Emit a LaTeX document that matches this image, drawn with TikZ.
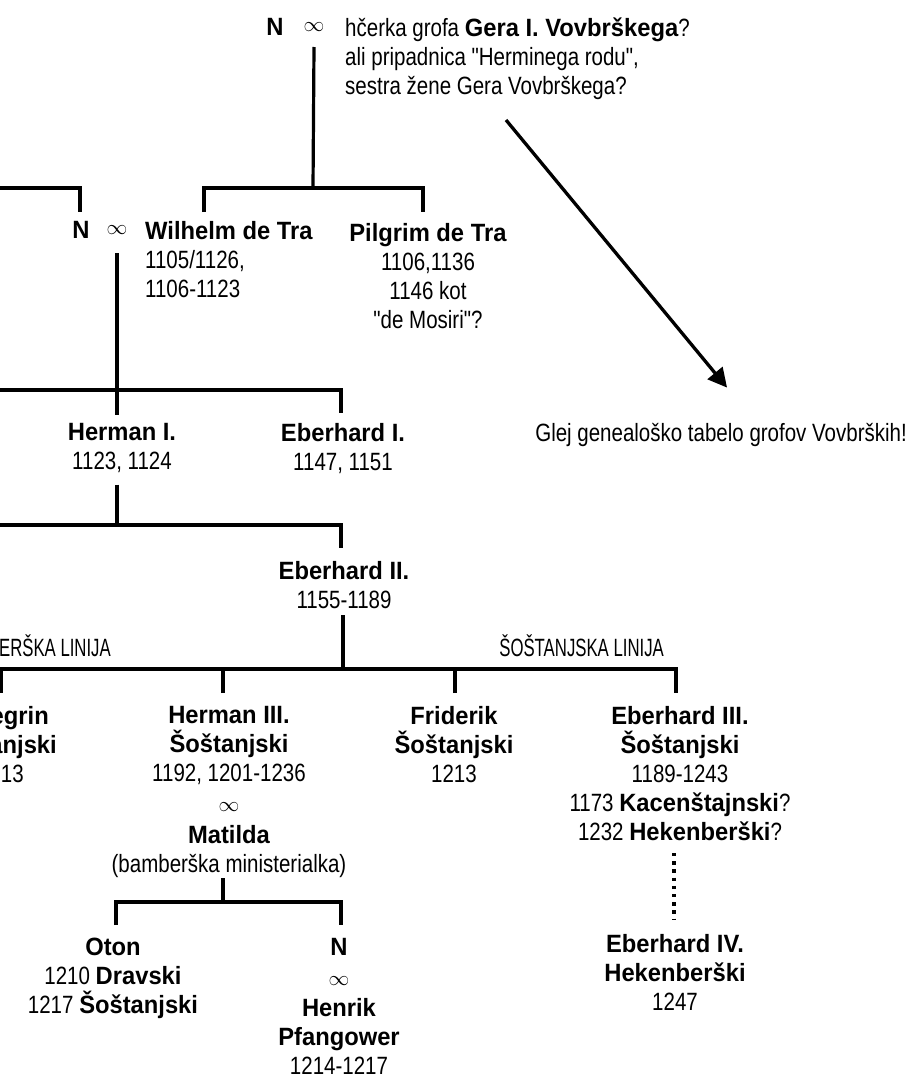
\documentclass[tikz,border=0pt]{standalone}
\usepackage{fontspec}
\newfontfamily\treefont{Liberation Sans}[UprightFeatures={FakeStretch=0.82},BoldFeatures={FakeStretch=0.95}]
\newfontfamily\capsfont{Liberation Sans}[FakeStretch=0.67]
\usepackage{tikz}
\usepackage{xcolor}
\usetikzlibrary{positioning,arrows.meta}
\newcommand{\marr}{{\fontsize{21}{29}\selectfont$\infty$}}

\begin{document}
\begin{tikzpicture}[x=1pt,y=-1pt,
  every node/.style={inner sep=0pt,font=\treefont\fontsize{25}{29}\selectfont},
  tree/.style={line width=3.2pt,line join=miter},
  person/.style={anchor=north,align=center},
  lineage/.style={anchor=base east,font=\capsfont\fontsize{25}{29}\selectfont},
  dotline/.style={line width=3.3pt,dash pattern=on 3.3pt off 4.9pt},
  pointer/.style={line width=3.3pt,-{Triangle[length=19pt,width=19pt]}}]
\useasboundingbox[fill=white] (0,0) rectangle (911,1079);

\node (topn) at (275,27) {\textbf{N}};
\node (topinf) at (314,27) {\marr};
\node[anchor=north west,align=left] (wife) at (345,18) {hčerka grofa \textbf{Gera I. Vovbrškega}?\\ali pripadnica "Herminega rodu",\\sestra žene Gera Vovbrškega?};

\node (midn) at (81,230) {\textbf{N}};
\node (midinf) at (117,230) {\marr};
\node[anchor=north west,align=left] (wilhelm) at (145,221) {\textbf{Wilhelm de Tra}\\1105/1126,\\1106-1123};
\node[person] (pilgrim) at (428,223) {\textbf{Pilgrim de Tra}\\1106,1136\\1146 kot\\"de Mosiri"?};

\node[person] (herman) at (122,423.5) {\textbf{Herman I.}\\1123, 1124};
\node[person] (eber1) at (343,423) {\textbf{Eberhard I.}\\1147, 1151};
\node[anchor=base east] (glej) at (907,441) {Glej genealoško tabelo grofov Vovbrških!};

\node[person] (eber2) at (344,561) {\textbf{Eberhard II.}\\1155-1189};
\node[lineage] (leftline) at (111,656.5) {ERŠKA LINIJA};
\node[lineage] (sostline) at (664,656.5) {ŠOŠTANJSKA LINIJA};

\node[anchor=north east,align=right] (pelegrin) at (57,706) {\textbf{egrin}\rule{8pt}{0pt}\\\textbf{anjski}\\13\rule{33pt}{0pt}};
\node[person] (herman3) at (229,706.5) {\textbf{Herman III.}\\\textbf{Šoštanjski}\\1192, 1201-1236\\[1pt]\marr\\[3pt]\textbf{Matilda}\\(bamberška ministerialka)};
\node[person] (friderik) at (454,706) {\textbf{Friderik}\\\textbf{Šoštanjski}\\1213};
\node[person] (eber3) at (680,706) {\textbf{Eberhard III.}\\\textbf{Šoštanjski}\\1189-1243\\1173 \textbf{Kacenštajnski}?\\1232 \textbf{Hekenberški}?};

\node[person] (oton) at (113,938) {\textbf{Oton}\\1210 \textbf{Dravski}\\1217 \textbf{Šoštanjski}};
\node[person] (daughter) at (339,938.5) {\textbf{N}\\[1pt]\marr\\[2pt]\textbf{Henrik}\\\textbf{Pfangower}\\1214-1217};
\node[person] (eber4) at (675,934) {\textbf{Eberhard IV.}\\\textbf{Hekenberški}\\1247};

\coordinate (g1) at (313,188);
\coordinate (g2) at (-5,188);
\coordinate (g3) at (-5,390);
\coordinate (g4) at (-5,525);
\coordinate (g5) at (-5,669);
\coordinate (g6) at (223,902);
\coordinate (ptr) at (506,120);

\draw[tree] ([yshift=-20pt]topinf.center) -- (g1);
\draw[tree] ([xshift=59pt,yshift=9pt]wilhelm.north west) |- (g1) -| ([xshift=-5pt,yshift=11pt]pilgrim.north);
\draw[tree] (g2) -| ([xshift=-1pt,yshift=18pt]midn.center);
\draw[tree] ([yshift=-23pt]midinf.center) -- ([xshift=-5pt,yshift=9pt]herman.north);
\draw[tree] (g3) -| ([xshift=-2pt,yshift=10pt]eber1.north);
\draw[tree] ([xshift=-5pt,yshift=-61pt]herman.north) -- ([xshift=-5pt,yshift=-101pt]herman.north);
\draw[tree] (g4) -| ([xshift=-3pt,yshift=13pt]eber2.north);
\draw[tree] ([xshift=-1pt,yshift=-54pt]eber2.north) |- (g5);
\draw[tree] (g5) -| ([xshift=-4pt,yshift=13pt]eber3.north);
\draw[tree] ([xshift=-56pt,yshift=13pt]pelegrin.north east) -- ++(0,-25);
\draw[tree] ([xshift=-6pt,yshift=13.5pt]herman3.north) -- ++(0,-25);
\draw[tree] ([xshift=1pt,yshift=13pt]friderik.north) -- ++(0,-25);
\draw[tree] ([xshift=-6pt,yshift=-171.5pt]herman3.north) -- (g6);
\draw[tree] ([xshift=3pt,yshift=13pt]oton.north) |- (g6) -| ([xshift=2pt,yshift=13.5pt]daughter.north);
\draw[dotline] ([xshift=-6pt,yshift=-147pt]eber3.north) -- ([xshift=-1pt,yshift=15pt]eber4.north);
\draw[pointer] (ptr) -- ([xshift=6pt,yshift=35pt]glej.north);
\end{tikzpicture}
\end{document}
